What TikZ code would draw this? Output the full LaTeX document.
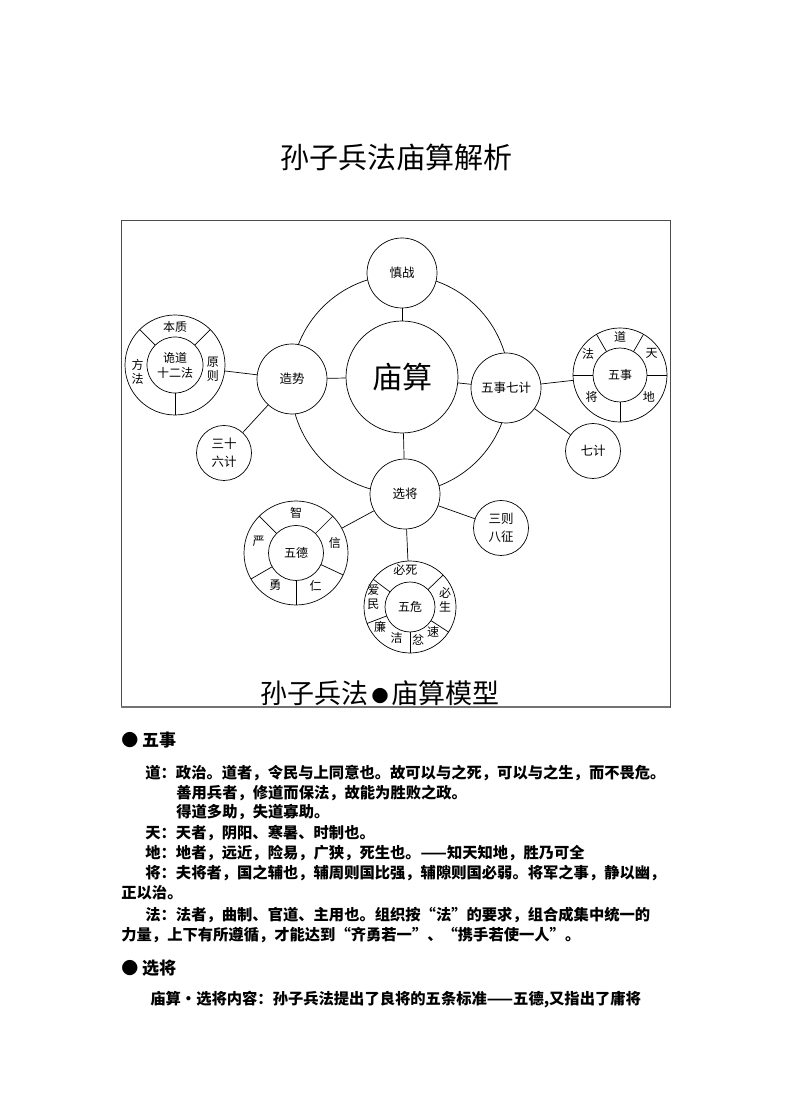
\documentclass[tikz,border=0pt]{standalone}
\usepackage{fontspec}
\setmainfont{Noto Sans CJK SC}
\usepackage{tikz}
\usetikzlibrary{positioning}
\newcommand{\fs}[2]{\fontsize{#1}{#2}\selectfont}
\tikzset{
  hubnode/.style  = {circle, draw, fill=white, inner sep=0pt,
                     minimum size=112pt, font=\fs{30}{30}},
  satnode/.style  = {circle, draw, fill=white, inner sep=0pt,
                     minimum size=70pt, font=\fs{12.5}{15}},
  leafnode/.style = {circle, draw, fill=white, inner sep=0pt,
                     minimum size=55pt, align=center, font=\fs{12.5}{18}},
  ringout/.style  = {circle, draw, fill=white, inner sep=0pt, outer sep=0pt},
  ringin/.style   = {circle, draw, inner sep=0pt, outer sep=0pt,
                     align=center, font=\fs{12}{15}},
  ringlbl/.style  = {inner sep=0pt, align=center, font=\fs{12}{14}},
  headtxt/.style  = {anchor=west, inner sep=0pt, font=\bfseries\fs{17}{17}},
  bodytxt/.style  = {anchor=west, inner sep=0pt, font=\bfseries\fs{15.3}{15.3}},
  every path/.style = {line width=0.7pt}
}

\begin{document}
\begin{tikzpicture}[x=1pt, y=1pt]
  \useasboundingbox (0,0) rectangle (792,1120);

  % Title
  \node[font=\fs{29}{29}] (title) at (396,963) {孙子兵法庙算解析};

  % Frame
  \draw[black!70] (121,413) rectangle (670,900);
  \draw[black!55, line width=2pt] (121,413) -- (670,413);

  % Orbit through the four satellites
  \coordinate (orb) at (400,736);
  \draw (orb) circle[radius=109];

  % Hub and satellites
  \node[hubnode] (hub) at (402,743) {庙算};
  \node[satnode] (shen) at (402,847) {慎战};
  \node[satnode] (zs)   at (292,741) {造势};
  \node[satnode] (wsqj) at (506,732) {五事七计};
  \node[satnode] (xj)   at (405,626) {选将};

  \draw (hub) -- (shen);
  \draw (hub) -- (zs);
  \draw (hub) -- (wsqj);
  \draw (hub) -- (xj);

  % Ring: 诡道十二法
  \node[ringout, minimum size=100pt] (gdo) at (175,755) {};
  \node[ringin, minimum size=56pt] (gdi) at (gdo) {诡道\\十二法};
  \foreach \a in {45,135,270} \draw (gdi.\a) -- (gdo.\a);
  \node[ringlbl, shift={(90:38)}]  (gd1) at (gdo) {本质};
  \node[ringlbl, shift={(190:38)}] (gd2) at (gdo) {方\\法};
  \node[ringlbl, shift={(-6:38)}]  (gd3) at (gdo) {原\\则};
  \draw (zs) -- (gdo);

  % 三十六计
  \node[leafnode] (sslj) at (224,667) {三十\\六计};
  \draw (zs) -- (sslj);

  % Ring: 五事
  \node[ringout, minimum size=94pt] (wso) at (620,745) {};
  \node[ringin, minimum size=54pt] (wsi) at (wso) {五事};
  \foreach \a in {0,60,120,180,270} \draw (wsi.\a) -- (wso.\a);
  \node[ringlbl, shift={(90:38)}]  (ws1) at (wso) {道};
  \node[ringlbl, shift={(34:38)}]  (ws2) at (wso) {天};
  \node[ringlbl, shift={(147:38)}] (ws3) at (wso) {法};
  \node[ringlbl, shift={(218:36)}] (ws4) at (wso) {将};
  \node[ringlbl, shift={(-37:36)}] (ws5) at (wso) {地};
  \draw (wsqj) -- (wso);

  % 七计
  \node[leafnode] (qj) at (593,669) {七计};
  \draw (wsqj) -- (qj);

  % Ring: 五德
  \node[ringout, minimum size=104pt] (wdo) at (296,567) {};
  \node[ringin, minimum size=55pt] (wdi) at (wdo) {五德};
  \foreach \a in {45,135,210,270,335} \draw (wdi.\a) -- (wdo.\a);
  \node[ringlbl, shift={(90:40)}]  (wd1) at (wdo) {智};
  \node[ringlbl, shift={(163:39)}] (wd2) at (wdo) {严};
  \node[ringlbl, shift={(14:40)}]  (wd3) at (wdo) {信};
  \node[ringlbl, shift={(237:38)}] (wd4) at (wdo) {勇};
  \node[ringlbl, shift={(301:38)}] (wd5) at (wdo) {仁};
  \draw (xj) -- (wdo);

  % Ring: 五危
  \node[ringout, minimum size=92pt] (wwo) at (410,513) {};
  \node[ringin, minimum size=50pt] (wwi) at (wwo) {五危};
  \foreach \a in {44,143,201,270,327} \draw (wwi.\a) -- (wwo.\a);
  \node[ringlbl, shift={(97:37)}]  (ww1) at (wwo) {必死};
  \node[ringlbl, shift={(165:38)}] (ww2) at (wwo) {爱\\民};
  \node[ringlbl, shift={(12:36)}]  (ww3) at (wwo) {必\\生};
  \node[ringlbl, shift={(214:36)}] (ww4) at (wwo) {廉};
  \node[ringlbl, shift={(247:34)}] (ww5) at (wwo) {洁};
  \node[ringlbl, shift={(284:34)}] (ww6) at (wwo) {忿};
  \node[ringlbl, shift={(313:34)}] (ww7) at (wwo) {速};
  \draw (xj) -- (wwo);

  % 三则八征
  \node[leafnode] (szbz) at (501,592) {三则\\八征};
  \draw (xj) -- (szbz);

  % Caption in frame
  \node[font=\fs{27}{27}] (cap) at (380,427)
    {孙子兵法\hspace{3pt}{\fs{17}{17}\raisebox{1pt}{●}}\hspace{3pt}庙算模型};

  % Text below
  \node[headtxt] (h1) at (121,380) {● 五事};
  \node[bodytxt] (t1) at (145,347) {道：政治。道者，令民与上同意也。故可以与之死，可以与之生，而不畏危。};
  \node[bodytxt] (t2) at (176,327) {善用兵者，修道而保法，故能为胜败之政。};
  \node[bodytxt] (t3) at (176,308) {得道多助，失道寡助。};
  \node[bodytxt] (t4) at (145,287) {天：天者，阴阳、寒暑、时制也。};
  \node[bodytxt] (t5) at (145,267) {地：地者，远近，险易，广狭，死生也。——知天知地，胜乃可全};
  \node[bodytxt] (t6) at (145,247) {将：夫将者，国之辅也，辅周则国比强，辅隙则国必弱。将军之事，静以幽，};
  \node[bodytxt] (t7) at (121,227) {正以治。};
  \node[bodytxt] (t8) at (145,205) {法：法者，曲制、官道、主用也。组织按“法”的要求，组合成集中统一的};
  \node[bodytxt] (t9) at (121,185) {力量，上下有所遵循，才能达到“齐勇若一”、“携手若使一人”。};
  \node[headtxt] (h2) at (121,152) {● 选将};
  \node[bodytxt] (t10) at (150,120) {庙算·选将内容：孙子兵法提出了良将的五条标准——五德,又指出了庸将};
\end{tikzpicture}
\end{document}
